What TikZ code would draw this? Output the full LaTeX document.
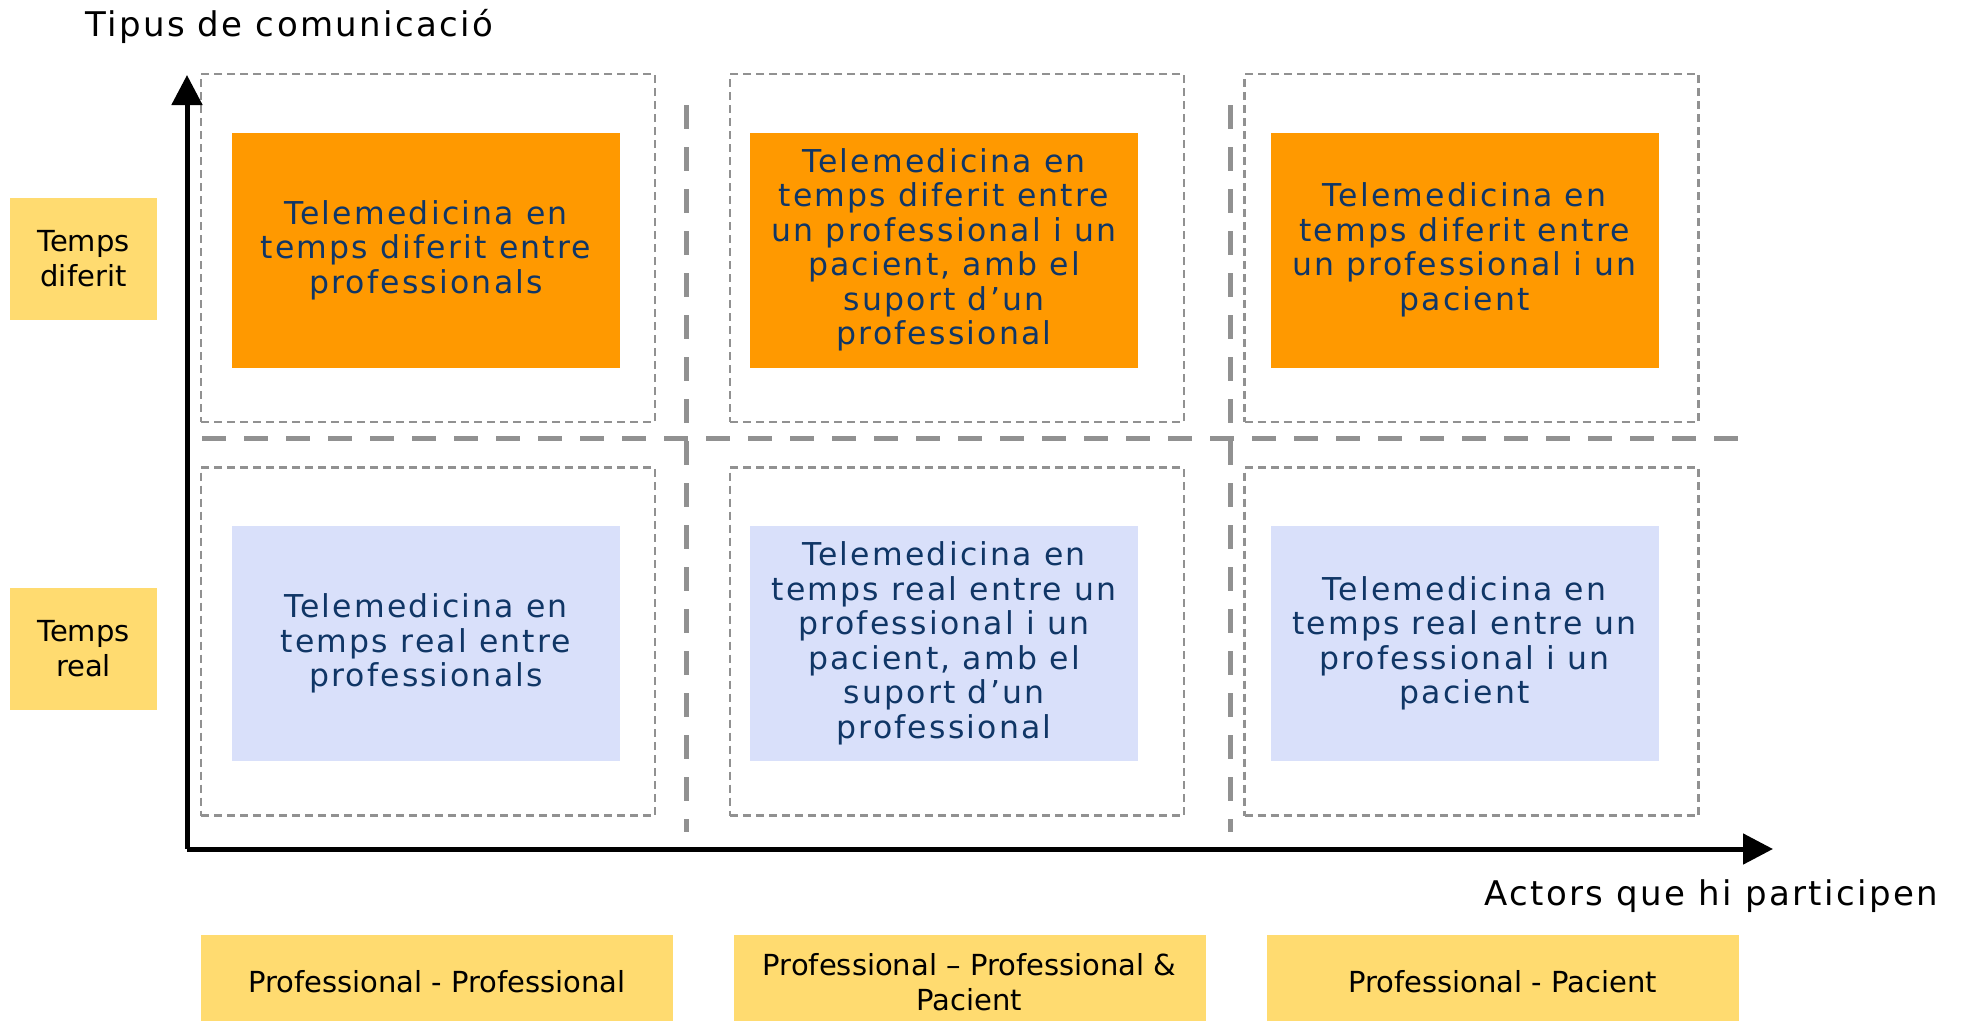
\documentclass[tikz,border=0pt]{standalone}
\usepackage{fontspec}
\setmainfont{DejaVu Sans}
\newfontfamily\widefont[LetterSpace=7]{DejaVu Sans}
\usepackage{tikz}
\usetikzlibrary{positioning}
\usetikzlibrary{arrows.meta}

\definecolor{orangebox}{RGB}{255,153,0}
\definecolor{bluebox}{RGB}{217,224,250}
\definecolor{yellowbox}{RGB}{255,219,112}
\definecolor{navytext}{RGB}{16,54,102}
\definecolor{gridgray}{RGB}{145,145,145}

\tikzset{
  cellbox/.style={draw=gridgray, line width=2.5pt, dash pattern=on 8pt off 5pt,
    minimum width=454pt, minimum height=348pt, inner sep=0pt},
  diferitbox/.style={fill=orangebox, minimum width=388pt, minimum height=235pt,
    inner sep=0pt, text=navytext, align=center,
    font=\widefont\fontsize{31.5}{34.5}\selectfont},
  realbox/.style={diferitbox, fill=bluebox},
  tagbox/.style={fill=yellowbox, align=center, inner sep=0pt,
    font=\fontsize{29}{35}\selectfont},
  divider/.style={draw=gridgray, line width=5pt, dash pattern=on 24pt off 18pt},
  axisline/.style={line width=5pt, -{Triangle[length=30pt,width=30pt]}},
  axislabel/.style={inner sep=0pt, font=\widefont\fontsize{34}{38}\selectfont}
}

\begin{document}
\begin{tikzpicture}[x=1pt, y=-1pt]
    \useasboundingbox (0,0) rectangle (1965,1020);

        % Define nodes
        \node[cellbox] (c11) at (428,248)    {};
        \node[cellbox] (c12) at (957,248)    {};
        \node[cellbox] (c13) at (1471.5,248) {};
        \node[cellbox] (c21) at (428,641.5)    {};
        \node[cellbox] (c22) at (957,641.5)    {};
        \node[cellbox] (c23) at (1471.5,641.5) {};

        \node[diferitbox, xshift=-2pt, yshift=-2pt]  (dpp) at (c11) {Telemedicina en\\temps diferit entre\\professionals};
        \node[diferitbox, xshift=-13pt, yshift=-2pt] (dppp) at (c12) {Telemedicina en\\temps diferit entre\\un professional i un\\pacient, amb el\\suport d’un\\professional};
        \node[diferitbox, xshift=-7pt, yshift=-2pt]  (dpc) at (c13) {Telemedicina en\\temps diferit entre\\un professional i un\\pacient};
        \node[realbox, xshift=-2pt, yshift=-2pt]  (rpp) at (c21) {Telemedicina en\\temps real entre\\professionals};
        \node[realbox, xshift=-13pt, yshift=-2pt] (rppp) at (c22) {Telemedicina en\\temps real entre un\\professional i un\\pacient, amb el\\suport d’un\\professional};
        \node[realbox, xshift=-7pt, yshift=-2pt]  (rpc) at (c23) {Telemedicina en\\temps real entre un\\professional i un\\pacient};

        \node[tagbox, minimum width=147pt, minimum height=122pt] (diferit) at (83.5,259)   {Temps\\diferit};
        \node[tagbox, minimum width=147pt, minimum height=122pt] (real)    at (83.5,648.5) {Temps\\real};

        \node[tagbox, minimum width=472pt, minimum height=94pt] (pp)  at (437,982)    {Professional - Professional};
        \node[tagbox, minimum width=472pt, minimum height=94pt] (ppp) at (969.5,982)  {Professional – Professional \&\\Pacient};
        \node[tagbox, minimum width=472pt, minimum height=94pt] (pc)  at (1502.5,982) {Professional - Pacient};

        \node[axislabel, anchor=base west] (ylabel) at (85,36)    {Tipus de comunicació};
        \node[axislabel, anchor=base west] (xlabel) at (1484,905) {Actors que hi participen};

        \coordinate (origin) at (187,849);
        \coordinate (ytip)   at (187,75);
        \coordinate (xtip)   at (1773,849);
        \coordinate (hl) at (202,438);
        \coordinate (hr) at (1740,438);
        \coordinate (v1t) at (686,105);
        \coordinate (v1b) at (686,832);
        \coordinate (v2t) at (1230,105);
        \coordinate (v2b) at (1230,832);

        % Connect the nodes
        \draw[divider] (hl) -- (hr);
        \draw[divider] (v1t) -- (v1b);
        \draw[divider] (v2t) -- (v2b);
        \draw[axisline] (origin) -- (ytip);
        \draw[axisline] (origin) -- (xtip);
      \end{tikzpicture}
\end{document}
